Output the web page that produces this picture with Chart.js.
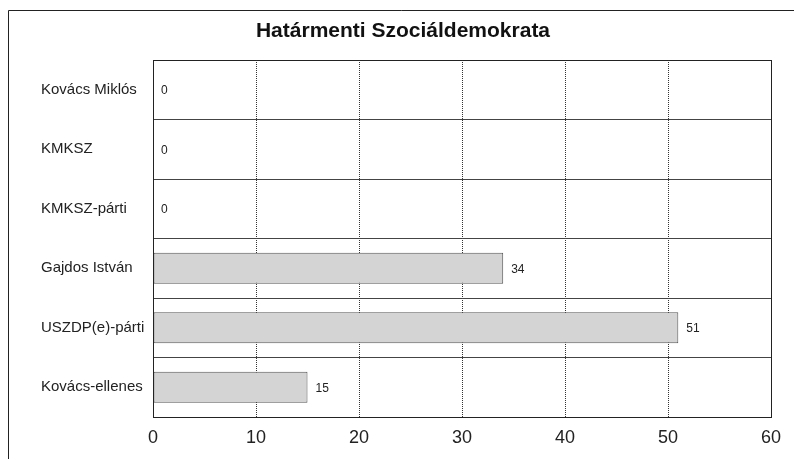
<!DOCTYPE html>
<html><head><meta charset="utf-8">
<script src="https://cdn.jsdelivr.net/npm/chart.js@4"></script>
<style>html,body{margin:0;padding:0;background:#fff}#w{width:794px;height:459px}</style>
</head><body><div id="w"><canvas id="c"></canvas></div>
<script>
const titleText = "Határmenti Szociáldemokrata";
const categories = ["Kovács Miklós", "KMKSZ", "KMKSZ-párti", "Gajdos István", "USZDP(e)-párti", "Kovács-ellenes"];
const values = [0, 0, 0, 34, 51, 15];
const xTicks = [0, 10, 20, 30, 40, 50, 60];

const FONT = '"Liberation Sans", Arial, sans-serif';

const frame = {
  id: 'frame',
  beforeDraw(chart) {
    const ctx = chart.ctx;
    ctx.save();
    ctx.fillStyle = '#fff';
    ctx.fillRect(0, 0, chart.width, chart.height);
    ctx.strokeStyle = '#222';
    ctx.lineWidth = 1;
    ctx.beginPath();
    ctx.moveTo(8.5, chart.height);
    ctx.lineTo(8.5, 10.5);
    ctx.lineTo(chart.width, 10.5);
    ctx.stroke();
    ctx.fillStyle = '#111';
    ctx.font = 'bold 21px ' + FONT;
    ctx.textAlign = 'center';
    ctx.textBaseline = 'alphabetic';
    ctx.fillText(titleText, 403, 37);
    ctx.restore();
  },
  afterDatasetsDraw(chart) {
    const ctx = chart.ctx, a = chart.chartArea;
    ctx.save();
    ctx.strokeStyle = '#222';
    ctx.lineWidth = 1;
    ctx.strokeRect(Math.round(a.left) + 0.5, Math.round(a.top) + 0.5, Math.round(a.right - a.left), Math.round(a.bottom - a.top));
    const meta = chart.getDatasetMeta(0);
    ctx.fillStyle = '#222';
    ctx.font = '12px ' + FONT;
    ctx.textBaseline = 'middle';
    ctx.textAlign = 'left';
    meta.data.forEach((bar, i) => {
      ctx.fillText(String(values[i]), bar.x + 8, bar.y + 1);
    });
    ctx.restore();
  }
};

new Chart(document.getElementById('c'), {
  type: 'bar',
  data: {
    labels: categories,
    datasets: [{
      data: values,
      backgroundColor: '#d4d4d4',
      borderColor: '#555',
      borderWidth: 1,
      borderSkipped: false,
      categoryPercentage: 1,
      barPercentage: 0.52
    }]
  },
  options: {
    indexAxis: 'y',
    responsive: true,
    maintainAspectRatio: false,
    animation: false,
    layout: { padding: { left: 41, right: 23, top: 60, bottom: 0 } },
    plugins: {
      legend: { display: false },
      tooltip: { enabled: false },
      title: { display: false }
    },
    scales: {
      x: {
        min: 0, max: 60,
        afterBuildTicks(s) { s.ticks = xTicks.map(v => ({ value: v })); },
        afterFit(s) { s.height = 42; },
        grid: { color: '#333', lineWidth: 1, drawTicks: false },
        border: { display: false, dash: [1, 1] },
        ticks: {
          padding: 10,
          color: '#222',
          font: { family: FONT, size: 18 }
        }
      },
      y: {
        afterFit(s) { s.width = 112; },
        grid: { offset: true, color: '#444', lineWidth: 1, drawTicks: false },
        border: { display: false },
        ticks: {
          padding: 10,
          crossAlign: 'far',
          color: '#222',
          font: { family: FONT, size: 15 }
        }
      }
    }
  },
  plugins: [frame]
});
</script>
</body></html>
